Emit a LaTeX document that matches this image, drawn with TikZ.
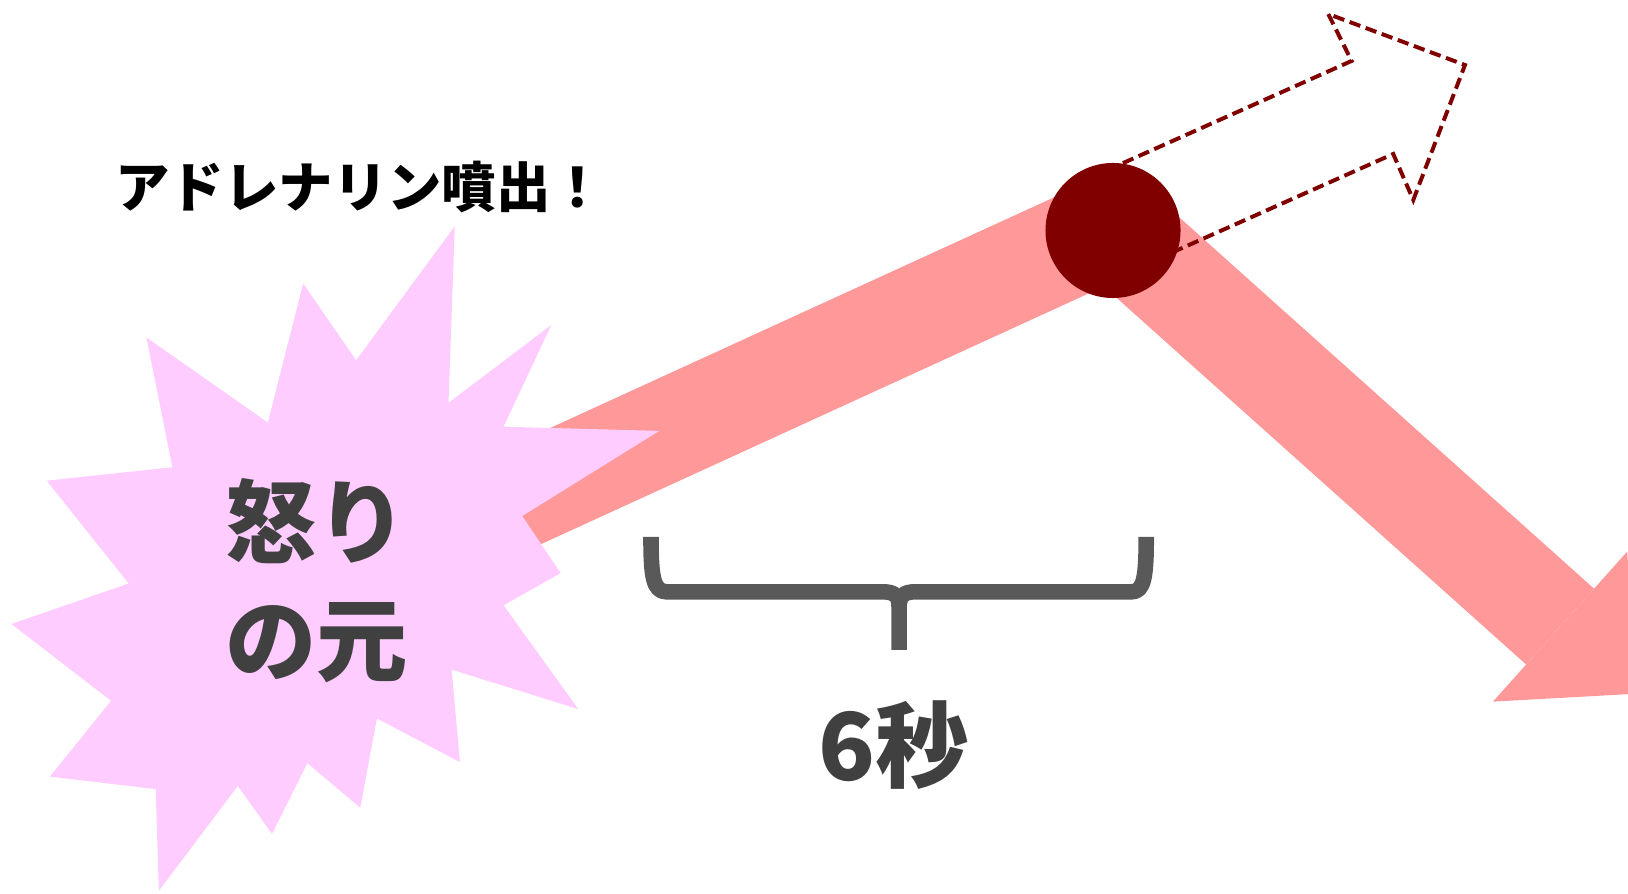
\documentclass[tikz,border=0pt]{standalone}
\usepackage{fontspec}
\newfontfamily\jp{Noto Sans CJK JP}
\definecolor{bandpink}{HTML}{FF9999}
\definecolor{burstpink}{HTML}{FFCCFF}
\definecolor{darkmaroon}{HTML}{800000}
\definecolor{txtgray}{HTML}{404040}
\definecolor{bracegray}{HTML}{595959}
\tikzset{
  band/.style={draw=bandpink, line width=0.98cm, line join=miter, line cap=butt},
  bandhead/.style={fill=bandpink},
  burst/.style={fill=burstpink},
  dasharrow/.style={draw=darkmaroon, line width=0.038cm, dash pattern=on 0.11cm off 0.055cm, line join=miter},
  peakdot/.style={circle, fill=darkmaroon, minimum size=1.3cm, inner sep=0pt},
  bracestyle/.style={draw=bracegray, line width=0.15cm, line cap=butt, line join=round},
  bigtext/.style={text=txtgray, align=center, font={\jp\bfseries\fontsize{25}{32.4}\selectfont}},
  sectext/.style={text=txtgray, font={\jp\bfseries\fontsize{25.6}{30}\selectfont}},
  titletext/.style={text=black, font={\jp\bfseries\fontsize{14.9}{17}\selectfont}},
}
\begin{document}
\begin{tikzpicture}[x=0.01cm,y=-0.01cm]
\useasboundingbox (0,0) rectangle (1568,861);
\clip (0,0) rectangle (1568,861);
% main band
\coordinate (S) at (445,505);
\coordinate (P) at (1072,218);
\coordinate (B) at (1502.6,603.5);
\coordinate (W1) at (1437.9,675.8);
\coordinate (W2) at (1567.3,531.2);
\coordinate (T) at (1574.9,668.2);
\draw[band] (S) -- (P) -- (B);
\fill[bandhead] (W1) -- (W2) -- (T) -- cycle;
% starburst
\fill[burst] (438,218) -- (432,388) -- (531,313) -- (485,411) -- (635,415) -- (503,497)
  -- (540,552) -- (485,583) -- (557,683) -- (435,645) -- (443,734) -- (363,692)
  -- (347,778) -- (296,735) -- (262,803) -- (229,757) -- (153,858) -- (150,760)
  -- (48,748) -- (107,675) -- (11,601) -- (124,562) -- (45,463) -- (166,450)
  -- (141,325) -- (258,407) -- (292,273) -- (343,347) -- cycle;
% dashed arrow
\coordinate (D1) at (1051.4,170.6);
\coordinate (D2) at (1301.8,58.7);
\coordinate (D3) at (1279.3,13.5);
\coordinate (D4) at (1411,62.6);
\coordinate (D5) at (1361.2,192.6);
\coordinate (D6) at (1341.9,148.3);
\coordinate (D7) at (1092.6,259.4);
\draw[dasharrow] (D1) -- (D2) -- (D3) -- (D4) -- (D5) -- (D6) -- (D7) -- cycle;
% peak dot
\node[peakdot] (dot) at (1072,222) {};
% brace
\coordinate (BL) at (627,517);
\coordinate (BR) at (1104,517);
\coordinate (BM) at (866,585);
\coordinate (BE) at (866,626);
\draw[bracestyle] (BL) .. controls (627,555) and (629,570) .. (642,570) -- (850,570)
  .. controls (862,570) and (866,574) .. (BM) -- (BE);
\draw[bracestyle] (BR) .. controls (1104,555) and (1102,570) .. (1090,570) -- (882,570)
  .. controls (870,570) and (866,574) .. (BM);
% texts
\node[titletext] (title) at (347,180) {アドレナリン噴出！};
\node[bigtext] (anger) at (305,559) {怒り\\の元};
\node[sectext] (sec) at (861,718) {6秒};
\end{tikzpicture}
\end{document}
